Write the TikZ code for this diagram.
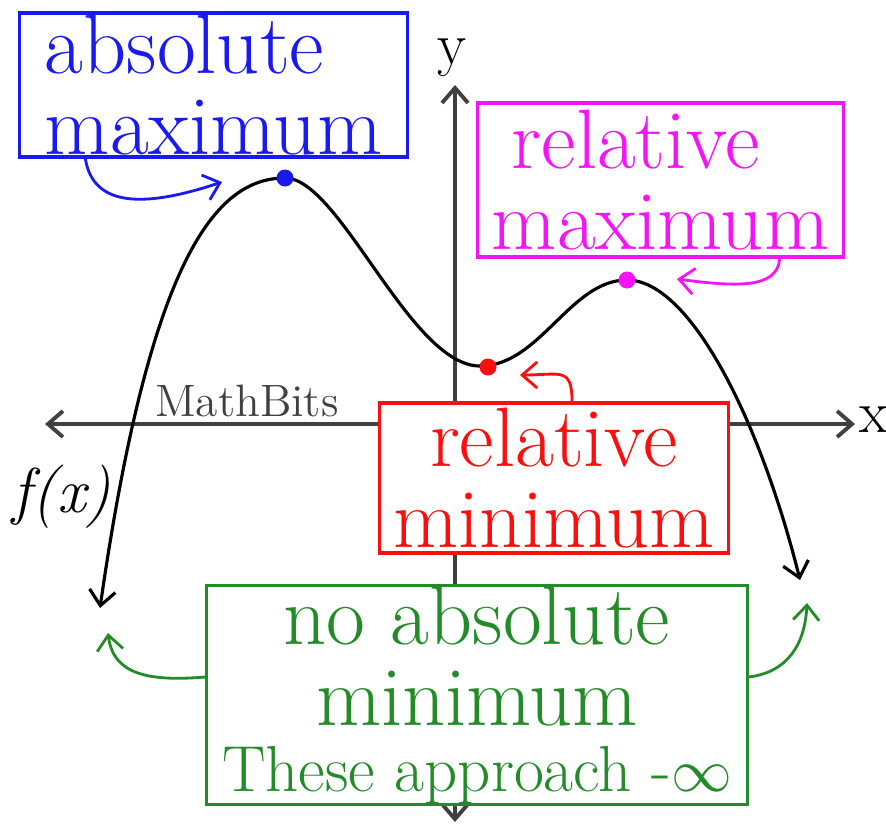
\documentclass[tikz,border=0pt]{standalone}
\usetikzlibrary{arrows.meta}
\definecolor{maxblue}{RGB}{25,25,240}
\definecolor{relmagenta}{RGB}{245,20,245}
\definecolor{relred}{RGB}{250,15,15}
\definecolor{mingreen}{RGB}{35,140,40}
\tikzset{
  extbox/.style={draw, line width=0.9pt, fill=white, inner sep=0pt, align=center,
    font=\fontsize{24}{23}\selectfont},
  extarrow/.style={-{Straight Barb[length=1.5mm, width=2.6mm]}, line width=0.8pt},
  extdot/.style={circle, fill, inner sep=0pt, minimum size=0.17cm},
  axisline/.style={{Straight Barb[length=1.5mm, width=2.6mm]}-{Straight Barb[length=1.5mm, width=2.6mm]},
    line width=1.1pt, black!75},
  curveline/.style={{Straight Barb[length=1.5mm, width=2.6mm]}-{Straight Barb[length=1.5mm, width=2.6mm]},
    line width=0.9pt}
}

\begin{document}
\begin{tikzpicture}[x=0.01cm, y=-0.01cm]
    \useasboundingbox (0,0) rectangle (886,827);
    \draw[axisline] (45,424) -- (855,424);
    \draw[axisline] (455,822) -- (455,85);
    \node[font=\fontsize{17}{17}\selectfont] (xlabel) at (874,420) {x};
    \node[font=\fontsize{17}{17}\selectfont] (ylabel) at (452,58) {y};
    \node[font=\fontsize{12.9}{13}\selectfont, text=black!75] (mathbits) at (247,401) {MathBits};
    \node[font=\fontsize{18}{18}\selectfont\itshape] (fx) at (62,497) {f(x)};
    \draw[curveline] (100,608) .. controls (150,260) and (215,178) .. (285,178)
      .. controls (340,178) and (410,366) .. (480,366)
      .. controls (540,366) and (570,280) .. (627,280)
      .. controls (690,280) and (760,420) .. (800,580);
    \node[extdot, maxblue] (absmaxdot) at (285,178) {};
    \node[extdot, relred] (relmindot) at (488,367) {};
    \node[extdot, relmagenta] (relmaxdot) at (627,280) {};
    \coordinate (absmaxtip) at (222,182);
    \coordinate (relmaxtip) at (677,279);
    \coordinate (relmintip) at (520,375);
    \coordinate (lefttip) at (108,633);
    \coordinate (righttip) at (807,603);
    \node[extbox, draw=maxblue, text=maxblue, align=left, minimum width=3.87cm, minimum height=1.44cm]
      (absmax) at (213.5,85) {absolute\\maximum};
    \node[extbox, draw=relmagenta, text=relmagenta, minimum width=3.65cm, minimum height=1.54cm]
      (relmax) at (660.5,180) {relative\hspace*{14pt}\\maximum};
    \node[extbox, draw=relred, text=relred, minimum width=3.48cm, minimum height=1.5cm]
      (relmin) at (554,478) {relative\\minimum};
    \node[extbox, draw=mingreen, text=mingreen, minimum width=5.4cm, minimum height=2.1cm]
      (noabsmin) at (477,695) {no absolute\\minimum\\[-4pt]{\fontsize{18.5}{18}\selectfont These approach -$\infty$}};
    \draw[extarrow, maxblue] ([xshift=0.67cm]absmax.south west) .. controls +(8,50) and +(-75,25) .. (absmaxtip);
    \draw[extarrow, relmagenta] ([xshift=-0.65cm]relmax.south east) .. controls +(-2,30) and +(60,8) .. (relmaxtip);
    \draw[extarrow, relred] ([xshift=0.18cm]relmin.north) .. controls +(0,-35) and +(40,0) .. (relmintip);
    \draw[extarrow, mingreen] ([yshift=0.18cm]noabsmin.west) .. controls +(-60,5) and +(5,40) .. (lefttip);
    \draw[extarrow, mingreen] ([yshift=0.18cm]noabsmin.east) .. controls +(40,-5) and +(-2,40) .. (righttip);
  \end{tikzpicture}
\end{document}
